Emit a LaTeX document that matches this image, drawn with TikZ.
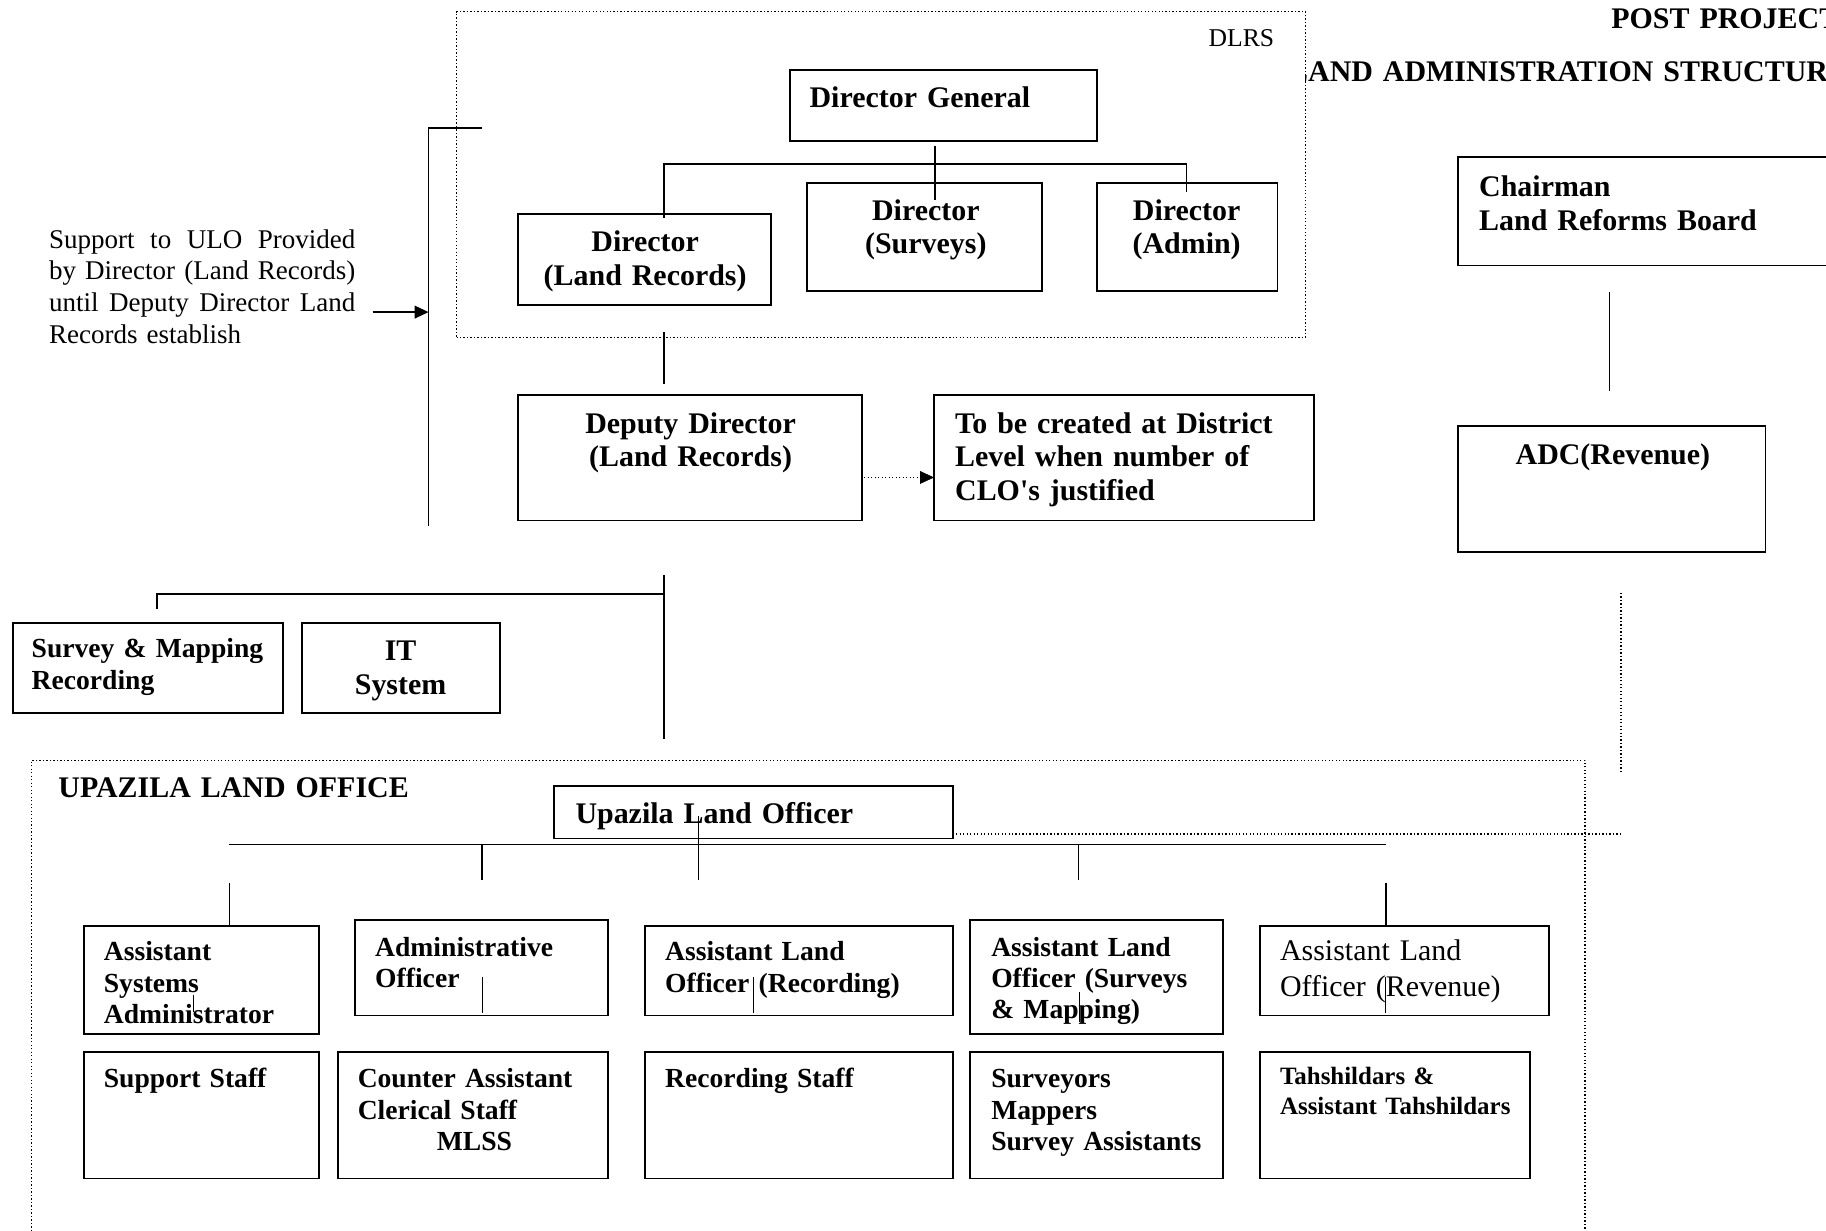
\documentclass[tikz,border=0pt]{standalone}
\usepackage{fontspec}
\setmainfont{Liberation Serif}
\usetikzlibrary{arrows.meta}
\newcommand{\jline}[1]{\leavevmode\hbox to 263pt{\spaceskip=0.15em plus 1fil\relax #1}}
\begin{document}
\begin{tikzpicture}[x=1pt,y=-1pt,
  box/.style={draw,line width=1.6pt,rectangle,inner sep=0pt,outer sep=0pt,anchor=north west},
  dotbox/.style={draw,line width=1.2pt,dash pattern=on 1.2pt off 1.8pt,rectangle,inner sep=0pt,outer sep=0pt,anchor=north west},
  ln/.style={line width=1.3pt},
  dln/.style={line width=1.2pt,dash pattern=on 1.2pt off 1.8pt},
  big/.style={font=\fontsize{25.7}{29}\selectfont\bfseries},
  small/.style={font=\fontsize{23.7}{27}\selectfont\bfseries},
  lt/.style={anchor=base west,align=left,text width=600pt,inner sep=0pt},
  ct/.style={anchor=base,align=center,text width=320pt,inner sep=0pt},
  tip/.style={-{Triangle[length=12pt,width=11pt]}}
]
\fill[white] (0,0) rectangle (1568,1057);
\clip (0,0) rectangle (1568,1057);

% titles
\node[lt,big] (ttl1) at (1383.5,24.3) {POST PROJECT};
\node[lt,big] (ttl2) at (1106,70) {LAND ADMINISTRATION STRUCTURE};

% DLRS group
\node[dotbox,fill=white,minimum width=729pt,minimum height=280pt] (dlrs) at (392,10) {};
\node[anchor=base,inner sep=0pt,font=\fontsize{22}{24}\selectfont] (dlrst) at (1066,40) {DLRS};

% boxes
\node[box,minimum width=264pt,minimum height=61pt] (dg) at (678,60) {};
\node[box,minimum width=217pt,minimum height=78pt] (dlr) at (445,184) {};
\node[box,minimum width=202pt,minimum height=93pt] (dsv) at (693,157) {};
\node[box,minimum width=155pt,minimum height=93pt] (dad) at (942,157) {};
\node[box,minimum width=295pt,minimum height=108pt] (dd) at (445,339) {};
\node[box,minimum width=326pt,minimum height=108pt] (clo) at (802,339) {};
\node[box,minimum width=360pt,minimum height=93pt] (chair) at (1252,135) {};
\node[box,minimum width=264pt,minimum height=108pt] (adc) at (1252,366) {};
\node[box,minimum width=232pt,minimum height=77pt] (smr) at (11,535) {};
\node[box,minimum width=170pt,minimum height=77pt] (its) at (259,535) {};

% Upazila land office group
\node[dotbox,minimum width=1334pt,minimum height=460pt] (uloff) at (27,653) {};
\node[box,minimum width=342pt,minimum height=45pt] (ulo) at (476,675) {};
\node[box,minimum width=202pt,minimum height=93pt] (asa) at (72,795) {};
\node[box,minimum width=217pt,minimum height=82pt] (ao) at (305,790) {};
\node[box,minimum width=264pt,minimum height=77pt] (alor) at (554,795) {};
\node[box,minimum width=217pt,minimum height=98pt] (alos) at (833,790) {};
\node[box,minimum width=248pt,minimum height=77pt] (alorv) at (1082,795) {};
\node[box,minimum width=202pt,minimum height=109pt] (ss) at (72,903) {};
\node[box,minimum width=232pt,minimum height=109pt] (ca) at (290,903) {};
\node[box,minimum width=264pt,minimum height=109pt] (rs) at (554,903) {};
\node[box,minimum width=217pt,minimum height=109pt] (sv) at (833,903) {};
\node[box,minimum width=232pt,minimum height=109pt] (th) at (1082,903) {};

% texts
\node[lt,big] (dgt) at (695,92) {Director General};
\node[ct,big] (dlrt) at (554,216) {Director\\(Land Records)};
\node[ct,big] (dsvt) at (795,189) {Director\\(Surveys)};
\node[ct,big] (dadt) at (1019,189) {Director\\(Admin)};
\node[ct,big] (ddt) at (593,372) {Deputy Director\\(Land Records)};
\node[lt,big] (clot) at (820,372) {To be created at District\\Level when number of\\CLO\textquotesingle s justified};
\node[lt,big] (chairt) at (1270,169) {Chairman\\Land Reforms Board};
\node[ct,big] (adct) at (1385,399) {ADC(Revenue)};
\node[lt,font=\fontsize{23.2}{27.2}\selectfont] (supt) at (42,213) {\jline{Support to ULO Provided}\\\jline{by Director (Land Records)}\\\jline{until Deputy Director Land}\\Records establish};
\node[lt,small] (smrt) at (27,565) {Survey \& Mapping\\Recording};
\node[ct,big] (itst) at (344,567) {IT\\System};
\node[lt,big] (ulofft) at (50,685) {UPAZILA LAND OFFICE};
\node[lt,big] (ulot) at (494,707) {Upazila Land Officer};
\node[lt,small] (asat) at (89,825) {Assistant\\Systems\\Administrator};
\node[lt,small] (aot) at (322,821) {Administrative\\Officer};
\node[lt,small] (alort) at (571,825) {Assistant Land\\Officer (Recording)};
\node[lt,small] (alost) at (851,821) {Assistant Land\\Officer (Surveys\\\& Mapping)};
\node[lt,font=\fontsize{25.7}{31}\selectfont] (alorvt) at (1099,825) {Assistant Land\\Officer (Revenue)};
\node[lt,small] (sst) at (89,934) {Support Staff};
\node[lt,small] (cat) at (307,934) {Counter Assistant\\Clerical Staff\\\hspace*{68pt}MLSS};
\node[lt,small] (rst) at (571,934) {Recording Staff};
\node[lt,small] (svt) at (851,934) {Surveyors\\Mappers\\Survey Assistants};
\node[lt,font=\fontsize{21.4}{26}\selectfont\bfseries] (tht) at (1099,931) {Tahshildars \&\\Assistant Tahshildars};

% junction coordinates
\coordinate (dgA) at (803,125);
\coordinate (dgB) at (803,172);
\coordinate (brL) at (570,187);
\coordinate (brR) at (1019,165);
\coordinate (lrA) at (570,285);
\coordinate (lrB) at (570,330);
\coordinate (sbT) at (414,110);
\coordinate (sbB) at (368,452);
\coordinate (supA) at (320,268);
\coordinate (supB) at (368,268);
\coordinate (chA) at (1382,251);
\coordinate (chB) at (1382,336);
\coordinate (dvA) at (1392,509);
\coordinate (dvB) at (1392,663);
\coordinate (dhB) at (1392,716);
\coordinate (smA) at (135,523);
\coordinate (smB) at (570,494);
\coordinate (smC) at (570,635);
\coordinate (uhL) at (197,725);
\coordinate (uhR) at (1190,725);

% connectors
\draw[ln] (dgA) -- (dgB);
\draw[ln] (brL) |- (803,141) -| (brR);
\draw[ln] (lrA) -- (lrB);
\draw[dln] (dd.east |- 0,410) ++(2,0) coordinate (ddE) -- (ddE -| clo.west);
\draw[tip] (clo.west |- 0,410) ++(-2,0) -- (clo.west |- 0,410);
\draw[ln] (sbT) -| (sbB);
\draw[ln,tip] (supA) -- (supB);
\draw[ln] (chA) -- (chB);
\draw[dln] (dvA) -- (dvB);
\draw[dln] (ulo.east |- dhB) -- (dhB);
\draw[ln] (smA) |- (smB |- 0,510) -- (smB);
\draw[ln] (smB |- 0,510) -- (smC);
\draw[ln] (uhL) -- (uhR);
\draw[ln] (600,701) -- (600,756);
\draw[ln] (414,725) -- (414,756);
\draw[ln] (926,725) -- (926,756);
\draw[ln] (197,758) -- (asa.north -| 197,0);
\draw[ln] (1190,758) -- (alorv.north -| 1190,0);
% short segments visible inside boxes
\draw[line width=1pt] (166,854) -- (166,869);
\draw[line width=1pt] (414,839) -- (414,870);
\draw[line width=1pt] (647,839) -- (647,870);
\draw[line width=1pt] (927,852) -- (927,878);
\draw[line width=1pt] (1190,839) -- (1190,870);
\end{tikzpicture}
\end{document}
